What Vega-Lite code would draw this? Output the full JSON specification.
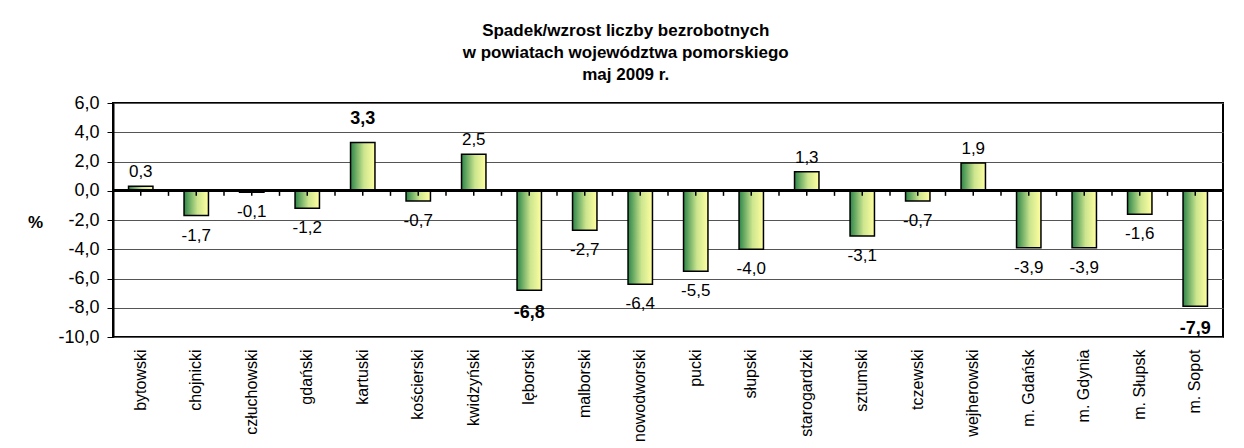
{
  "$schema": "https://vega.github.io/schema/vega-lite/v6.json",
  "autosize": {"type": "none"},
  "padding": {"left": 113, "top": 103, "right": 21, "bottom": 111},
  "width": 1110,
  "height": 234,
  "background": "white",
  "title": {
    "text": ["Spadek/wzrost liczby bezrobotnych", "w powiatach województwa pomorskiego", "maj 2009 r."],
    "font": "Liberation Sans",
    "fontSize": 17,
    "fontWeight": "bold",
    "color": "black",
    "lineHeight": 22,
    "anchor": "middle",
    "frame": "bounds",
    "baseline": "bottom",
    "offset": -7
  },
  "data": {
    "values": [
      {"powiat": "bytowski", "value": 0.3},
      {"powiat": "chojnicki", "value": -1.7},
      {"powiat": "człuchowski", "value": -0.1},
      {"powiat": "gdański", "value": -1.2},
      {"powiat": "kartuski", "value": 3.3},
      {"powiat": "kościerski", "value": -0.7},
      {"powiat": "kwidzyński", "value": 2.5},
      {"powiat": "lęborski", "value": -6.8},
      {"powiat": "malborski", "value": -2.7},
      {"powiat": "nowodworski", "value": -6.4},
      {"powiat": "pucki", "value": -5.5},
      {"powiat": "słupski", "value": -4.0},
      {"powiat": "starogardzki", "value": 1.3},
      {"powiat": "sztumski", "value": -3.1},
      {"powiat": "tczewski", "value": -0.7},
      {"powiat": "wejherowski", "value": 1.9},
      {"powiat": "m. Gdańsk", "value": -3.9},
      {"powiat": "m. Gdynia", "value": -3.9},
      {"powiat": "m. Słupsk", "value": -1.6},
      {"powiat": "m. Sopot", "value": -7.9}
    ]
  },
  "encoding": {
    "x": {"field": "powiat", "type": "nominal", "sort": null, "scale": {"paddingInner": 0, "paddingOuter": 0},
      "axis": {"orient": "bottom", "title": null, "ticks": false, "domain": false, "labelAngle": -90, "labelPadding": 12,
        "labelFont": "Liberation Sans", "labelFontSize": 16, "labelColor": "black"}},
    "y": {"field": "value", "type": "quantitative", "scale": {"domain": [-10, 6], "nice": false, "zero": false},
      "axis": {"values": [-10, -8, -6, -4, -2, 0, 2, 4, 6], "format": ".1f", "grid": true, "gridColor": "#555", "gridWidth": 1,
        "labelOverlap": false, "domainColor": "black", "domainWidth": 2, "tickColor": "black", "tickSize": 6, "tickWidth": 1,
        "labelFont": "Liberation Sans", "labelFontSize": 18, "labelColor": "black", "labelPadding": 8,
        "title": "%", "titleAngle": 0, "titleFont": "Liberation Sans", "titleFontSize": 17, "titleFontWeight": "bold",
        "titleColor": "black", "titleX": -78, "titleY": 119, "titleAlign": "center", "titleBaseline": "middle"}}
  },
  "layer": [
    {
      "mark": {"type": "bar", "width": {"band": 0.44}, "stroke": "black", "strokeWidth": 1.5,
        "color": {"gradient": "linear", "x1": 0, "x2": 1, "y1": 0, "y2": 0,
          "stops": [{"offset": 0, "color": "#2c8549"}, {"offset": 0.55, "color": "#cce58e"}, {"offset": 1, "color": "#ffffa0"}]}}
    },
    {
      "mark": {"type": "rule", "color": "black", "strokeWidth": 2},
      "encoding": {"x": null, "y": {"datum": 0, "type": "quantitative"}}
    },
    {
      "mark": {"type": "rule", "color": "black", "strokeWidth": 1.5},
      "encoding": {
        "x": {"field": "powiat", "type": "nominal", "sort": null},
        "y": {"datum": 0, "type": "quantitative"},
        "y2": {"datum": -0.35}
      }
    },
    {
      "mark": {"type": "rule", "color": "black", "strokeWidth": 1.5},
      "encoding": {
        "x": {"field": "powiat", "type": "nominal", "sort": null, "bandPosition": 0},
        "y": {"datum": 0, "type": "quantitative"},
        "y2": {"datum": -0.35}
      }
    },
    {
      "transform": [{"filter": "datum.value > 0 && indexof(['kartuski','lęborski','m. Sopot'], datum.powiat) < 0"}],
      "mark": {"type": "text", "baseline": "bottom", "dy": -5, "font": "Liberation Sans", "fontSize": 17, "color": "black"},
      "encoding": {"text": {"field": "value", "type": "quantitative", "format": ".1f"}}
    },
    {
      "transform": [{"filter": "datum.value <= 0 && indexof(['kartuski','lęborski','m. Sopot'], datum.powiat) < 0"}],
      "mark": {"type": "text", "baseline": "top", "dy": 12, "font": "Liberation Sans", "fontSize": 17, "color": "black"},
      "encoding": {"text": {"field": "value", "type": "quantitative", "format": ".1f"}}
    },
    {
      "transform": [{"filter": "datum.value > 0 && indexof(['kartuski','lęborski','m. Sopot'], datum.powiat) >= 0"}],
      "mark": {"type": "text", "baseline": "bottom", "dy": -14, "font": "Liberation Sans", "fontSize": 18, "fontWeight": "bold", "color": "black"},
      "encoding": {"text": {"field": "value", "type": "quantitative", "format": ".1f"}}
    },
    {
      "transform": [{"filter": "datum.value <= 0 && indexof(['kartuski','lęborski','m. Sopot'], datum.powiat) >= 0"}],
      "mark": {"type": "text", "baseline": "top", "dy": 14, "font": "Liberation Sans", "fontSize": 18, "fontWeight": "bold", "color": "black"},
      "encoding": {"text": {"field": "value", "type": "quantitative", "format": ".1f"}}
    }
  ],
  "config": {
    "locale": {"number": {"decimal": ",", "thousands": " ", "grouping": [3], "currency": ["", ""], "minus": "-"}},
    "view": {"stroke": "black", "strokeWidth": 2},
    "axis": {"labelFont": "Liberation Sans"}
  }
}
